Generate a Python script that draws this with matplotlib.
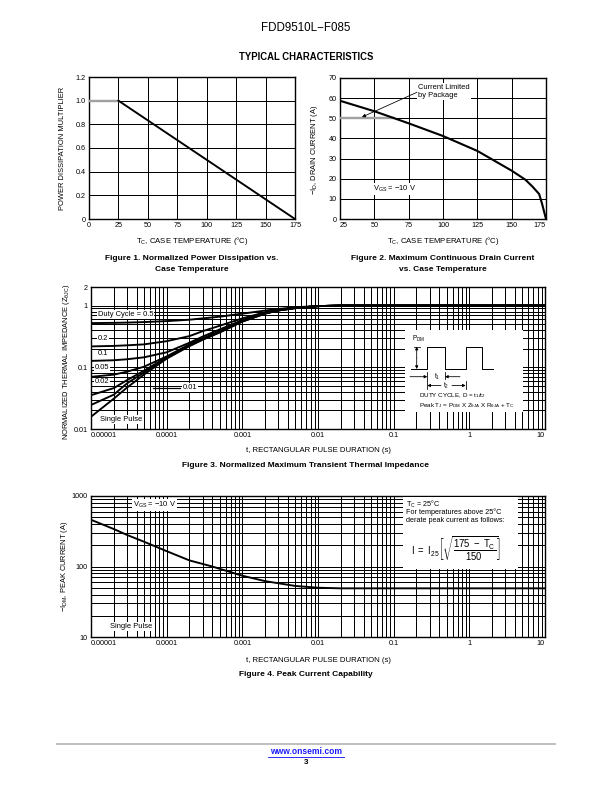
import numpy as np
import matplotlib as mpl
import matplotlib.pyplot as plt
from matplotlib.lines import Line2D
from matplotlib.ticker import FixedLocator, LogLocator, NullFormatter

plt.rcParams["font.family"] = ["Liberation Sans", "DejaVu Sans"]
plt.rcParams["mathtext.fontset"] = "custom"
plt.rcParams["mathtext.rm"] = "Liberation Sans"
plt.rcParams["mathtext.it"] = "Liberation Sans"
plt.rcParams["mathtext.bf"] = "Liberation Sans:bold"
plt.rcParams["mathtext.default"] = "regular"

# ---- Figure 1: power dissipation derating
temp_flat = [0, 25]
mult_flat = [1.0, 1.0]
temp_derate = [25, 175]
mult_derate = [1.0, 0.0]
temp_ticks = [0, 25, 50, 75, 100, 125, 150, 175]
mult_ticks = [0, 0.2, 0.4, 0.6, 0.8, 1.0, 1.2]
mult_labels = ["0", "0.2", "0.4", "0.6", "0.8", "1.0", "1.2"]

# ---- Figure 2: max continuous drain current
temp_id = [25, 50, 75, 100, 125, 150, 160, 165, 170, 172, 175]
id_max = [58.7, 53.5, 47.5, 41.2, 33.8, 24.0, 19.5, 16.2, 12.4, 7.9, 0.0]
pkg_temp = [25, 64]
pkg_limit = [50, 50]
temp_ticks2 = [25, 50, 75, 100, 125, 150, 175]
id_ticks = [0, 10, 20, 30, 40, 50, 60, 70]

# ---- Figure 3: transient thermal impedance
pulse_t = [1e-5, 2e-5, 3e-5, 5e-5, 1e-4, 2e-4, 3e-4, 5e-4, 1e-3, 2e-3,
           3e-3, 5e-3, 1e-2, 2e-2, 1e-1, 1, 10]
z_curves = {
    "0.5": [0.52, 0.525, 0.53, 0.54, 0.56, 0.59, 0.62, 0.66, 0.74, 0.83,
            0.88, 0.94, 0.98, 1.0, 1.0, 1.0, 1.0],
    "0.2": [0.218, 0.222, 0.227, 0.235, 0.265, 0.32, 0.385, 0.47, 0.62, 0.78,
            0.85, 0.92, 0.98, 1.0, 1.0, 1.0, 1.0],
    "0.1": [0.127, 0.13, 0.135, 0.145, 0.175, 0.25, 0.315, 0.41, 0.58, 0.76,
            0.84, 0.92, 0.98, 1.0, 1.0, 1.0, 1.0],
    "0.05": [0.070, 0.076, 0.085, 0.102, 0.15, 0.235, 0.295, 0.385, 0.565, 0.75,
             0.835, 0.915, 0.98, 1.0, 1.0, 1.0, 1.0],
    "0.02": [0.0353, 0.046, 0.062, 0.088, 0.145, 0.228, 0.287, 0.375, 0.558, 0.745,
             0.835, 0.912, 0.98, 1.0, 1.0, 1.0, 1.0],
    "0.01": [0.0245, 0.036, 0.055, 0.082, 0.142, 0.224, 0.283, 0.37, 0.554, 0.743,
             0.835, 0.91, 0.98, 1.0, 1.0, 1.0, 1.0],
    "single": [0.0158, 0.031, 0.047, 0.076, 0.138, 0.22, 0.28, 0.365, 0.55, 0.74,
               0.835, 0.91, 0.98, 1.0, 1.0, 1.0, 1.0],
}
t_decades = [1e-5, 1e-4, 1e-3, 1e-2, 1e-1, 1, 10]
t_labels = ["0.00001", "0.0001", "0.001", "0.01", "0.1", "1", "10"]
z_ticks = [0.01, 0.1, 1, 2]
z_labels = ["0.01", "0.1", "1", "2"]

# ---- Figure 4: peak current
ipk_t = [1e-5, 2e-5, 3e-5, 5e-5, 1e-4, 2e-4, 4e-4, 1e-3, 2e-3, 5e-3,
         1e-2, 2e-2, 0.1, 1, 10]
ipk = [460, 340, 280, 225, 165, 122, 100, 74, 62, 53, 50, 49, 49, 49, 49]
ipk_ticks = [10, 100, 1000]
ipk_labels = ["10", "100", "1000"]

W, H = 612, 792
fig = plt.figure(figsize=(W / 72, H / 72), dpi=72)


def box(x0, y0, x1, y1):
    return [x0 / W, 1 - y1 / H, (x1 - x0) / W, (y1 - y0) / H]


def ptext(x, y, s, **kw):
    kw.setdefault("ha", "center")
    kw.setdefault("va", "center")
    fig.text(x / W, 1 - y / H, s, **kw)


def style_axes(ax):
    for sp in ax.spines.values():
        sp.set_linewidth(1.4)
        sp.set_color("black")
    ax.tick_params(which="both", length=0, labelsize=7.2, pad=3, colors="black")
    ax.grid(True, which="both", color="black", linewidth=1.0)


def log_axes(ax, xt, xl, yt, yl):
    ax.set_xscale("log")
    ax.set_yscale("log")
    ax.xaxis.set_major_locator(FixedLocator(xt))
    ax.xaxis.set_minor_locator(LogLocator(subs=range(2, 10), numticks=30))
    ax.xaxis.set_minor_formatter(NullFormatter())
    ax.yaxis.set_minor_locator(LogLocator(subs=range(2, 10), numticks=30))
    ax.yaxis.set_minor_formatter(NullFormatter())
    ax.set_xticks(xt, xl)
    ax.set_yticks(yt, yl)
    labs = ax.get_xticklabels()
    labs[0].set_ha("left")
    labs[-1].set_ha("right")


def blank_box(x0, y0, x1, y1):
    a = fig.add_axes(box(x0, y0, x1, y1))
    a.set_xlim(x0, x1)
    a.set_ylim(y1, y0)
    a.set_xticks([])
    a.set_yticks([])
    for sp in a.spines.values():
        sp.set_visible(False)
    a.set_facecolor("white")
    return a


lab = dict(fontsize=7.5, bbox=dict(facecolor="white", edgecolor="none", pad=0.8))

# header
ptext(306, 28, "FDD9510L\u2212F085", fontsize=11.5)
ptext(306, 57, "TYPICAL CHARACTERISTICS", fontsize=9.5, fontweight="bold")

# ---------------- Figure 1
ax1 = fig.add_axes(box(89, 77, 295, 219))
style_axes(ax1)
ax1.plot(temp_flat, mult_flat, color="#a0a0a0", lw=2.4, zorder=3)
ax1.plot(temp_derate, mult_derate, color="black", lw=1.9, zorder=3)
ax1.set_xlim(0, 175)
ax1.set_ylim(0, 1.2)
ax1.set_xticks(temp_ticks)
ax1.set_yticks(mult_ticks, mult_labels)
ptext(63, 148, "POWER DISSIPATION MULTIPLIER", rotation=90, fontsize=7.5)
ptext(192, 241, "T$_C$, CASE TEMPERATURE (\u00b0C)", fontsize=7.8)
ptext(192, 259, "Figure 1. Normalized Power Dissipation vs.", fontsize=8.4, fontweight="bold")
ptext(192, 270, "Case Temperature", fontsize=8.4, fontweight="bold")

# ---------------- Figure 2
ax2 = fig.add_axes(box(340, 78, 546, 219))
style_axes(ax2)
ax2.plot(pkg_temp, pkg_limit, color="#a0a0a0", lw=2.4, zorder=3)
ax2.plot(temp_id, id_max, color="black", lw=2.1, zorder=3)
ax2.set_xlim(25, 175)
ax2.set_ylim(0, 70)
ax2.set_xticks(temp_ticks2)
ax2.set_yticks(id_ticks)
l2 = ax2.get_xticklabels()
l2[0].set_ha("left")
l2[-1].set_ha("right")
ax2.text(82, 63.4, "Current Limited\nby Package", ha="left", va="center",
         linespacing=1.25, zorder=4, **lab)
ax2.annotate("", xy=(41, 50.6), xytext=(81, 62.9), zorder=5,
             arrowprops=dict(arrowstyle="-|>", color="black", lw=0.8,
                             mutation_scale=7, shrinkA=0, shrinkB=0))
ax2.text(49, 14.9, "V$_{GS}$ = \u221210 V", ha="left", va="center", zorder=4, **lab)
ptext(315, 150, "\u2212I$_D$, DRAIN CURRENT (A)", rotation=90, fontsize=7.5)
ptext(443, 241, "T$_C$, CASE TEMPERATURE (\u00b0C)", fontsize=7.8)
ptext(443, 259, "Figure 2. Maximum Continuous Drain Current", fontsize=8.4, fontweight="bold")
ptext(443, 270, "vs. Case Temperature", fontsize=8.4, fontweight="bold")

# ---------------- Figure 3
ax3 = fig.add_axes(box(91, 287, 545, 429))
style_axes(ax3)
log_axes(ax3, t_decades, t_labels, z_ticks, z_labels)
for key, z in z_curves.items():
    ax3.plot(pulse_t, z, color="black", lw=1.9, zorder=3)
ax3.set_xlim(1e-5, 10)
ax3.set_ylim(0.01, 2)
ax3.text(1.24e-5, 0.72, "Duty Cycle = 0.5", ha="left", va="center", zorder=4, **lab)
ax3.text(1.24e-5, 0.295, "0.2", ha="left", va="center", zorder=4, **lab)
ax3.text(1.24e-5, 0.165, "0.1", ha="left", va="center", zorder=4, **lab)
ax3.text(1.12e-5, 0.1, "0.05", ha="left", va="center", zorder=4, **lab)
ax3.text(1.12e-5, 0.058, "0.02", ha="left", va="center", zorder=4, **lab)
ax3.text(1.62e-4, 0.047, "0.01", ha="left", va="center", zorder=4, **lab)
ax3.plot([6.5e-5, 1.5e-4], [0.047, 0.047], color="black", lw=1.2, zorder=4)
ax3.text(1.32e-5, 0.0142, "Single Pulse", ha="left", va="center", zorder=4, **lab)
ptext(66, 362, "NORMALIZED THERMAL IMPEDANCE (Z$_{\u03b8JC}$)", rotation=90, fontsize=7.5)
ptext(318, 451, "t, RECTANGULAR PULSE DURATION (s)", fontsize=7.8)
ptext(306, 466, "Figure 3. Normalized Maximum Transient Thermal Impedance",
      fontsize=8.4, fontweight="bold")

# inset: pulse diagram (page pixel coordinates)
axi = blank_box(405, 330, 523, 412)
wave_x = [411, 427.3, 427.3, 445, 445, 465.7, 465.7, 482.3, 482.3, 493]
wave_y = [369, 369, 346.7, 346.7, 369, 369, 346.7, 346.7, 369, 369]
axi.plot(wave_x, wave_y, color="black", lw=1.0)
arr = dict(arrowstyle="-|>", color="black", lw=0.8, mutation_scale=6, shrinkA=0, shrinkB=0)
axi.annotate("", xy=(416.7, 346.7), xytext=(416.7, 358), arrowprops=arr)
axi.annotate("", xy=(416.7, 369), xytext=(416.7, 358), arrowprops=arr)
axi.plot([413.5, 420], [346.7, 346.7], color="black", lw=0.8)
axi.text(411.5, 339, "P$_{DM}$", fontsize=6.5, ha="left", va="center")
axi.annotate("", xy=(427.3, 376.7), xytext=(410, 376.7), arrowprops=arr)
axi.annotate("", xy=(445, 376.7), xytext=(460, 376.7), arrowprops=arr)
axi.text(434.5, 376.7, "t$_1$", fontsize=6.5, ha="left", va="center")
axi.annotate("", xy=(427.3, 385.5), xytext=(441, 385.5), arrowprops=arr)
axi.annotate("", xy=(465.7, 385.5), xytext=(452, 385.5), arrowprops=arr)
axi.text(443, 385.5, "t$_2$", fontsize=6.5, ha="left", va="center")
axi.plot([427.3, 427.3], [372, 389], color="black", lw=0.8)
axi.plot([445, 445], [372, 379], color="black", lw=0.8)
axi.plot([465.7, 465.7], [381, 389], color="black", lw=0.8)
axi.text(419, 395.5, "DUTY CYCLE, D = t$_1$/t$_2$", fontsize=6.3, ha="left", va="center")
axi.text(419, 405.5, "Peak T$_J$ = P$_{DM}$ X Z$_{\u03b8JA}$ X R$_{\u03b8JA}$ + T$_C$",
         fontsize=6.3, ha="left", va="center")

# ---------------- Figure 4
ax4 = fig.add_axes(box(91, 496, 545, 637))
style_axes(ax4)
log_axes(ax4, t_decades, t_labels, ipk_ticks, ipk_labels)
ax4.plot(ipk_t, ipk, color="black", lw=1.9, zorder=3)
ax4.set_xlim(1e-5, 10)
ax4.set_ylim(10, 1000)
ax4.text(3.6e-5, 740, "V$_{GS}$ = \u221210 V", ha="left", va="center", zorder=4, **lab)
ax4.text(1.8e-5, 14, "Single Pulse", ha="left", va="center", zorder=4, **lab)
ptext(64, 566, "\u2212I$_{DM}$, PEAK CURRENT (A)", rotation=90, fontsize=7.5)
ptext(318, 661, "t, RECTANGULAR PULSE DURATION (s)", fontsize=7.8)
ptext(306, 675, "Figure 4. Peak Current Capability", fontsize=8.4, fontweight="bold")

axf = blank_box(402.7, 497.3, 518.3, 569.3)
axf.text(406, 504, "T$_C$ = 25\u00b0C", fontsize=7.3, ha="left", va="center")
axf.text(406, 512.3, "For temperatures above 25\u00b0C", fontsize=7.3, ha="left", va="center")
axf.text(406, 520.3, "derate peak current as follows:", fontsize=7.3, ha="left", va="center")
axf.text(456, 549,
         r"$I\ =\ I_{25}\left[\sqrt{\dfrac{175\ -\ T_C}{150}}\right]$",
         fontsize=9.5, ha="center", va="center")

# footer
fig.add_artist(Line2D([57 / W, 555 / W], [1 - 744 / H, 1 - 744 / H],
                      color="#c0c0c0", lw=2))
ptext(306, 752, "www.onsemi.com", fontsize=8.5, fontweight="bold", color="#1a1aff")
fig.add_artist(Line2D([268 / W, 344 / W], [1 - 757 / H, 1 - 757 / H],
                      color="#1a1aff", lw=0.9))
ptext(306, 762, "3", fontsize=8, fontweight="bold")

fig.savefig("out.png", dpi=72)
